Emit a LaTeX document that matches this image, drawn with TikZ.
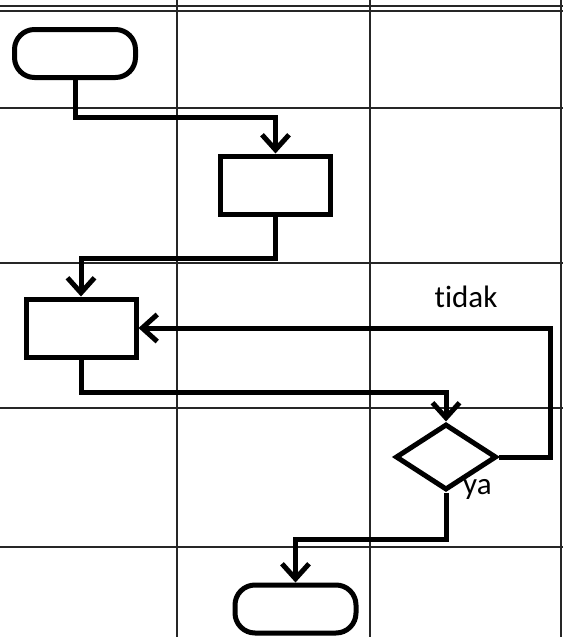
\documentclass[tikz,border=0pt]{standalone}
\usepackage{fontspec}
\setmainfont{Carlito}[Ligatures=NoCommon]
\usetikzlibrary{shapes.geometric,arrows.meta}
\tikzset{
  gridline/.style={line width=1.6pt, draw=black!85},
  symbolbox/.style={draw, line width=5pt, inner sep=0pt},
  terminal/.style={symbolbox, rectangle, rounded corners=20pt, minimum width=121pt, minimum height=48pt},
  process/.style={symbolbox, rectangle, minimum width=110pt, minimum height=58pt},
  decision/.style={symbolbox, diamond, aspect=1.5, minimum width=101pt, minimum height=66pt},
  flow/.style={line width=5pt, line join=miter, -{Straight Barb[length=15pt,width=27pt,line width=5pt]}},
  lbl/.style={font=\fontsize{31pt}{34pt}\selectfont, inner sep=0pt}
}
\begin{document}
\begin{tikzpicture}[x=1pt,y=-1pt]
\useasboundingbox (0,0) rectangle (563,637);
\clip (0,0) rectangle (563,637);
% table grid
\draw[gridline] (0,6) -- (563,6);
\draw[gridline] (0,11) -- (563,11);
\foreach \yy in {108,263,408,547} \draw[gridline] (0,\yy) -- (563,\yy);
\foreach \xx in {177,370,561} \draw[gridline] (\xx,0) -- (\xx,637);
% flowchart symbols
\node[terminal] (start) at (75,53.5) {};
\node[process] (p1) at (275.5,185) {};
\node[process] (p2) at (81,328) {};
\node[decision] (dec) at (446,457) {};
\node[terminal] (stop) at (295.5,609) {};
% connectors
\draw[flow] (start.south) -- ++(0,37) -| (p1.north);
\draw[flow] (p1.south) -- ++(0,42) -| (p2.north);
\draw[flow] (p2.south) -- ++(0,33) -| (dec.north);
\coordinate (loopcorner) at (550,457);
\draw[flow] (dec.east) -- (loopcorner) |- (p2.east);
\draw[flow] (dec.south) -- ++(0,47) -| (stop.north);
% labels
\node[lbl] (no) at (466,297) {tidak};
\node[lbl, anchor=base west] (yes) at (463,494) {ya};
\end{tikzpicture}
\end{document}
